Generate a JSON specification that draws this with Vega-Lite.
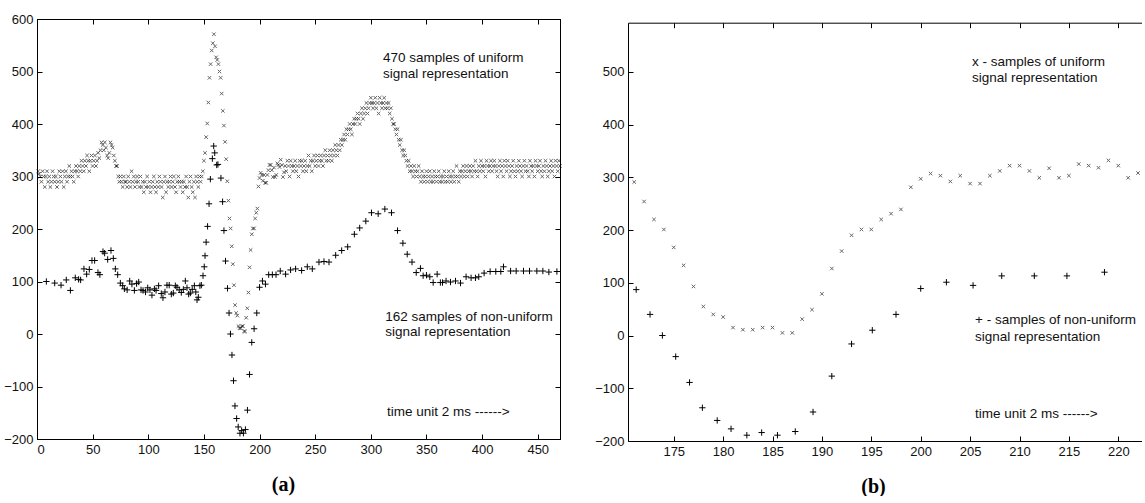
{
 "$schema": "https://vega.github.io/schema/vega-lite/v6.json",
 "padding": {"left": 0, "top": 12, "right": 0, "bottom": 0},
 "background": "white",
 "spacing": 23,
 "config": {
  "view": {"stroke": "black", "strokeWidth": 1},
  "axis": {"grid": false, "domain": true, "ticks": true, "domainColor": "black", "tickColor": "black", "labelColor": "#111", "labelFont": "Liberation Sans", "labelFontSize": 13, "tickSize": -5, "domainWidth": 1, "tickWidth": 1},
  "text": {"font": "Liberation Sans", "fontSize": 13.5, "color": "#111"}
 },
 "datasets": {
  "u": [
{"t":1,"v":310},{"t":2,"v":305},{"t":3,"v":300},{"t":4,"v":290},{"t":5,"v":310},{"t":6,"v":300},{"t":7,"v":280},{"t":8,"v":300},{"t":9,"v":310},{"t":10,"v":290},
{"t":11,"v":300},{"t":12,"v":280},{"t":13,"v":290},{"t":14,"v":310},{"t":15,"v":300},{"t":16,"v":290},{"t":17,"v":300},{"t":18,"v":280},{"t":19,"v":290},{"t":20,"v":310},
{"t":21,"v":300},{"t":22,"v":290},{"t":23,"v":310},{"t":24,"v":280},{"t":25,"v":300},{"t":26,"v":310},{"t":27,"v":290},{"t":28,"v":300},{"t":29,"v":320},{"t":30,"v":300},
{"t":31,"v":310},{"t":32,"v":300},{"t":33,"v":290},{"t":34,"v":310},{"t":35,"v":320},{"t":36,"v":310},{"t":37,"v":300},{"t":38,"v":320},{"t":39,"v":310},{"t":40,"v":330},
{"t":41,"v":320},{"t":42,"v":310},{"t":43,"v":330},{"t":44,"v":320},{"t":45,"v":340},{"t":46,"v":330},{"t":47,"v":310},{"t":48,"v":330},{"t":49,"v":340},{"t":50,"v":320},
{"t":51,"v":330},{"t":52,"v":340},{"t":53,"v":320},{"t":54,"v":330},{"t":55,"v":345},{"t":56,"v":335},{"t":57,"v":350},{"t":58,"v":365},{"t":59,"v":360},{"t":60,"v":350},
{"t":61,"v":365},{"t":62,"v":355},{"t":63,"v":340},{"t":64,"v":335},{"t":65,"v":345},{"t":66,"v":365},{"t":67,"v":360},{"t":68,"v":355},{"t":69,"v":340},{"t":70,"v":330},
{"t":71,"v":320},{"t":72,"v":320},{"t":73,"v":300},{"t":74,"v":290},{"t":75,"v":300},{"t":76,"v":290},{"t":77,"v":280},{"t":78,"v":300},{"t":79,"v":290},{"t":80,"v":290},
{"t":81,"v":280},{"t":82,"v":300},{"t":83,"v":290},{"t":84,"v":280},{"t":85,"v":310},{"t":86,"v":290},{"t":87,"v":300},{"t":88,"v":280},{"t":89,"v":290},{"t":90,"v":300},
{"t":91,"v":290},{"t":92,"v":280},{"t":93,"v":300},{"t":94,"v":280},{"t":95,"v":290},{"t":96,"v":270},{"t":97,"v":290},{"t":98,"v":280},{"t":99,"v":300},{"t":100,"v":280},
{"t":101,"v":290},{"t":102,"v":270},{"t":103,"v":280},{"t":104,"v":290},{"t":105,"v":300},{"t":106,"v":280},{"t":107,"v":270},{"t":108,"v":290},{"t":109,"v":280},{"t":110,"v":300},
{"t":111,"v":290},{"t":112,"v":280},{"t":113,"v":260},{"t":114,"v":290},{"t":115,"v":300},{"t":116,"v":270},{"t":117,"v":290},{"t":118,"v":280},{"t":119,"v":290},{"t":120,"v":300},
{"t":121,"v":280},{"t":122,"v":290},{"t":123,"v":300},{"t":124,"v":280},{"t":125,"v":270},{"t":126,"v":290},{"t":127,"v":300},{"t":128,"v":290},{"t":129,"v":280},{"t":130,"v":290},
{"t":131,"v":270},{"t":132,"v":290},{"t":133,"v":280},{"t":134,"v":300},{"t":135,"v":280},{"t":136,"v":260},{"t":137,"v":290},{"t":138,"v":300},{"t":139,"v":280},{"t":140,"v":270},
{"t":141,"v":290},{"t":142,"v":260},{"t":143,"v":300},{"t":144,"v":290},{"t":145,"v":280},{"t":146,"v":300},{"t":147,"v":290},{"t":148,"v":300},{"t":149,"v":310},{"t":150,"v":330},
{"t":151,"v":345},{"t":152,"v":375},{"t":153,"v":401},{"t":154,"v":441},{"t":155,"v":488},{"t":156,"v":514},{"t":157,"v":540},{"t":158,"v":554},{"t":159,"v":571},{"t":160,"v":548},
{"t":161,"v":527},{"t":162,"v":522},{"t":163,"v":514},{"t":164,"v":500},{"t":165,"v":488},{"t":166,"v":458},{"t":167,"v":425},{"t":168,"v":397},{"t":169,"v":366},{"t":170,"v":333},
{"t":171,"v":291},{"t":172,"v":254},{"t":173,"v":220},{"t":174,"v":201},{"t":175,"v":167},{"t":176,"v":133},{"t":177,"v":93},{"t":178,"v":55},{"t":179,"v":40},{"t":180,"v":35},
{"t":181,"v":15},{"t":182,"v":11},{"t":183,"v":11},{"t":184,"v":15},{"t":185,"v":15},{"t":186,"v":5},{"t":187,"v":5},{"t":188,"v":31},{"t":189,"v":49},{"t":190,"v":79},
{"t":191,"v":127},{"t":192,"v":160},{"t":193,"v":190},{"t":194,"v":201},{"t":195,"v":201},{"t":196,"v":220},{"t":197,"v":231},{"t":198,"v":239},{"t":199,"v":281},{"t":200,"v":297},
{"t":201,"v":307},{"t":202,"v":303},{"t":203,"v":292},{"t":204,"v":303},{"t":205,"v":288},{"t":206,"v":288},{"t":207,"v":303},{"t":208,"v":312},{"t":209,"v":322},{"t":210,"v":322},
{"t":211,"v":312},{"t":212,"v":299},{"t":213,"v":317},{"t":214,"v":299},{"t":215,"v":303},{"t":216,"v":325},{"t":217,"v":322},{"t":218,"v":318},{"t":219,"v":332},{"t":220,"v":322},
{"t":221,"v":299},{"t":222,"v":308},{"t":223,"v":320},{"t":224,"v":310},{"t":225,"v":330},{"t":226,"v":320},{"t":227,"v":300},{"t":228,"v":330},{"t":229,"v":320},{"t":230,"v":310},
{"t":231,"v":320},{"t":232,"v":330},{"t":233,"v":310},{"t":234,"v":320},{"t":235,"v":300},{"t":236,"v":330},{"t":237,"v":320},{"t":238,"v":330},{"t":239,"v":310},{"t":240,"v":320},
{"t":241,"v":330},{"t":242,"v":310},{"t":243,"v":320},{"t":244,"v":340},{"t":245,"v":320},{"t":246,"v":330},{"t":247,"v":310},{"t":248,"v":330},{"t":249,"v":340},{"t":250,"v":320},
{"t":251,"v":330},{"t":252,"v":340},{"t":253,"v":320},{"t":254,"v":330},{"t":255,"v":340},{"t":256,"v":330},{"t":257,"v":320},{"t":258,"v":340},{"t":259,"v":350},{"t":260,"v":330},
{"t":261,"v":340},{"t":262,"v":330},{"t":263,"v":350},{"t":264,"v":340},{"t":265,"v":330},{"t":266,"v":350},{"t":267,"v":340},{"t":268,"v":360},{"t":269,"v":350},{"t":270,"v":340},
{"t":271,"v":360},{"t":272,"v":350},{"t":273,"v":370},{"t":274,"v":360},{"t":275,"v":370},{"t":276,"v":380},{"t":277,"v":370},{"t":278,"v":390},{"t":279,"v":380},{"t":280,"v":390},
{"t":281,"v":400},{"t":282,"v":390},{"t":283,"v":380},{"t":284,"v":400},{"t":285,"v":410},{"t":286,"v":400},{"t":287,"v":410},{"t":288,"v":420},{"t":289,"v":410},{"t":290,"v":400},
{"t":291,"v":420},{"t":292,"v":430},{"t":293,"v":410},{"t":294,"v":420},{"t":295,"v":430},{"t":296,"v":440},{"t":297,"v":420},{"t":298,"v":430},{"t":299,"v":440},{"t":300,"v":450},
{"t":301,"v":440},{"t":302,"v":430},{"t":303,"v":440},{"t":304,"v":450},{"t":305,"v":430},{"t":306,"v":440},{"t":307,"v":420},{"t":308,"v":450},{"t":309,"v":440},{"t":310,"v":430},
{"t":311,"v":440},{"t":312,"v":450},{"t":313,"v":430},{"t":314,"v":440},{"t":315,"v":430},{"t":316,"v":440},{"t":317,"v":420},{"t":318,"v":430},{"t":319,"v":410},{"t":320,"v":400},
{"t":321,"v":400},{"t":322,"v":390},{"t":323,"v":380},{"t":324,"v":390},{"t":325,"v":370},{"t":326,"v":360},{"t":327,"v":370},{"t":328,"v":350},{"t":329,"v":340},{"t":330,"v":350},
{"t":331,"v":340},{"t":332,"v":330},{"t":333,"v":320},{"t":334,"v":330},{"t":335,"v":310},{"t":336,"v":320},{"t":337,"v":310},{"t":338,"v":300},{"t":339,"v":320},{"t":340,"v":310},
{"t":341,"v":300},{"t":342,"v":310},{"t":343,"v":320},{"t":344,"v":300},{"t":345,"v":290},{"t":346,"v":310},{"t":347,"v":300},{"t":348,"v":290},{"t":349,"v":300},{"t":350,"v":310},
{"t":351,"v":290},{"t":352,"v":300},{"t":353,"v":310},{"t":354,"v":290},{"t":355,"v":300},{"t":356,"v":290},{"t":357,"v":310},{"t":358,"v":300},{"t":359,"v":290},{"t":360,"v":300},
{"t":361,"v":310},{"t":362,"v":290},{"t":363,"v":300},{"t":364,"v":290},{"t":365,"v":300},{"t":366,"v":310},{"t":367,"v":290},{"t":368,"v":300},{"t":369,"v":290},{"t":370,"v":310},
{"t":371,"v":300},{"t":372,"v":290},{"t":373,"v":300},{"t":374,"v":310},{"t":375,"v":290},{"t":376,"v":300},{"t":377,"v":320},{"t":378,"v":300},{"t":379,"v":290},{"t":380,"v":310},
{"t":381,"v":300},{"t":382,"v":310},{"t":383,"v":320},{"t":384,"v":300},{"t":385,"v":310},{"t":386,"v":320},{"t":387,"v":300},{"t":388,"v":310},{"t":389,"v":320},{"t":390,"v":310},
{"t":391,"v":300},{"t":392,"v":320},{"t":393,"v":310},{"t":394,"v":330},{"t":395,"v":310},{"t":396,"v":300},{"t":397,"v":320},{"t":398,"v":310},{"t":399,"v":330},{"t":400,"v":320},
{"t":401,"v":310},{"t":402,"v":320},{"t":403,"v":300},{"t":404,"v":330},{"t":405,"v":320},{"t":406,"v":310},{"t":407,"v":320},{"t":408,"v":330},{"t":409,"v":310},{"t":410,"v":320},
{"t":411,"v":330},{"t":412,"v":320},{"t":413,"v":310},{"t":414,"v":300},{"t":415,"v":320},{"t":416,"v":330},{"t":417,"v":310},{"t":418,"v":320},{"t":419,"v":300},{"t":420,"v":330},
{"t":421,"v":320},{"t":422,"v":310},{"t":423,"v":330},{"t":424,"v":320},{"t":425,"v":300},{"t":426,"v":310},{"t":427,"v":320},{"t":428,"v":330},{"t":429,"v":310},{"t":430,"v":300},
{"t":431,"v":320},{"t":432,"v":310},{"t":433,"v":330},{"t":434,"v":320},{"t":435,"v":310},{"t":436,"v":300},{"t":437,"v":320},{"t":438,"v":330},{"t":439,"v":310},{"t":440,"v":320},
{"t":441,"v":310},{"t":442,"v":300},{"t":443,"v":330},{"t":444,"v":320},{"t":445,"v":310},{"t":446,"v":320},{"t":447,"v":300},{"t":448,"v":330},{"t":449,"v":320},{"t":450,"v":310},
{"t":451,"v":320},{"t":452,"v":330},{"t":453,"v":310},{"t":454,"v":300},{"t":455,"v":320},{"t":456,"v":310},{"t":457,"v":330},{"t":458,"v":320},{"t":459,"v":300},{"t":460,"v":310},
{"t":461,"v":320},{"t":462,"v":330},{"t":463,"v":310},{"t":464,"v":320},{"t":465,"v":300},{"t":466,"v":330},{"t":467,"v":320},{"t":468,"v":310},{"t":469,"v":330},{"t":470,"v":320}
  ],
  "n": [
{"t":8.4,"lo":100},{"t":15.9,"lo":97},{"t":21.6,"lo":93},{"t":26.3,"lo":103},{"t":30,"lo":83},{"t":34.4,"lo":107},{"t":37.4,"lo":104},{"t":39.2,"lo":103},
{"t":42.2,"lo":124},{"t":44.6,"lo":114},{"t":47,"lo":123},{"t":49.4,"lo":140},{"t":51.8,"lo":140},{"t":54.8,"lo":117},{"t":56.5,"lo":113},{"t":59.3,"lo":157},
{"t":60.8,"lo":154},{"t":63.5,"lo":142},{"t":66.5,"lo":159},{"t":68.6,"lo":144},{"t":70.4,"lo":124},{"t":72.5,"lo":113},{"t":74.9,"lo":97},{"t":77,"lo":92},
{"t":78.5,"lo":86},{"t":81,"lo":84},{"t":83.3,"lo":101},{"t":85.3,"lo":95},{"t":87.5,"lo":83},{"t":89.5,"lo":96},{"t":91.4,"lo":99},{"t":93.5,"lo":84},
{"t":95.3,"lo":83},{"t":97.5,"lo":80},{"t":99.5,"lo":88},{"t":101.5,"lo":84},{"t":103.3,"lo":74},{"t":105.5,"lo":86},{"t":107,"lo":83},{"t":109.3,"lo":92},
{"t":111.7,"lo":77},{"t":113.2,"lo":69},{"t":115,"lo":80},{"t":116.8,"lo":93},{"t":118.8,"lo":93},{"t":120.7,"lo":76},{"t":122.5,"lo":78},{"t":124.3,"lo":92},
{"t":125.8,"lo":89},{"t":127.8,"lo":84},{"t":129.7,"lo":79},{"t":131.5,"lo":85},{"t":133.3,"lo":101},{"t":134.8,"lo":88},{"t":136.3,"lo":76},{"t":137.8,"lo":78},
{"t":139.5,"lo":85},{"t":141.4,"lo":92},{"t":142.7,"lo":80},{"t":143.8,"lo":65},{"t":145,"lo":70},{"t":146.4,"lo":92},{"t":147.7,"lo":93},{"t":149.2,"lo":111},
{"t":150.3,"lo":128},{"t":151,"lo":149},{"t":152,"lo":175},{"t":153.3,"lo":205},{"t":154.6,"lo":248},{"t":155.8,"lo":295},{"t":157.6,"lo":334},{"t":158.8,"lo":358},
{"t":159.7,"lo":345},{"t":161.5,"lo":322},{"t":162.6,"lo":323},{"t":165.3,"lo":297},{"t":166.8,"lo":252},{"t":168,"lo":197},{"t":169.4,"lo":139},{"t":171.2,"lo":87},
{"t":172.6,"lo":40},{"t":173.85,"lo":0},{"t":175.2,"lo":-40},{"t":176.6,"lo":-89},{"t":177.9,"lo":-137},{"t":179.4,"lo":-161},{"t":180.8,"lo":-177},{"t":182.4,"lo":-189},
{"t":183.9,"lo":-184},{"t":185.5,"lo":-189},{"t":187.3,"lo":-182},{"t":189.1,"lo":-145},{"t":191,"lo":-77},{"t":193,"lo":-16},{"t":195.1,"lo":10},{"t":197.5,"lo":40},
{"t":200,"lo":89},{"t":202.6,"lo":101},{"t":205.3,"lo":95},{"t":208.2,"lo":113},{"t":211.5,"lo":113},{"t":214.8,"lo":113},{"t":218.6,"lo":120},{"t":223.4,"lo":114},
{"t":227.9,"lo":122},{"t":232.4,"lo":124},{"t":237.8,"lo":121},{"t":242.9,"lo":128},{"t":247.4,"lo":124},{"t":253.4,"lo":137},{"t":257.9,"lo":138},{"t":262.4,"lo":137},
{"t":268.4,"lo":150},{"t":273.8,"lo":159},{"t":279.2,"lo":166},{"t":285.2,"lo":190},{"t":290,"lo":202},{"t":295.5,"lo":215},{"t":300.6,"lo":231},{"t":306.6,"lo":229},
{"t":312.6,"lo":238},{"t":318.6,"lo":231},{"t":324,"lo":197},{"t":328.8,"lo":173},{"t":332.7,"lo":152},{"t":337,"lo":137},{"t":340.8,"lo":117},{"t":344.6,"lo":125},
{"t":347,"lo":111},{"t":350,"lo":112},{"t":353,"lo":109},{"t":356,"lo":98},{"t":359.6,"lo":114},{"t":362.5,"lo":98},{"t":364.4,"lo":98},{"t":367.6,"lo":101},
{"t":371.6,"lo":99},{"t":376.1,"lo":101},{"t":380.6,"lo":97},{"t":385.6,"lo":109},{"t":390.1,"lo":107},{"t":394,"lo":107},{"t":397,"lo":109},{"t":401.8,"lo":116},
{"t":407.2,"lo":119},{"t":412.3,"lo":119},{"t":416.8,"lo":119},{"t":419.2,"lo":128},{"t":425.6,"lo":120},{"t":430.6,"lo":120},{"t":437.2,"lo":120},{"t":442.6,"lo":120},
{"t":449.2,"lo":120},{"t":454.6,"lo":120},{"t":460,"lo":118},{"t":467.2,"lo":119}
  ],
  "notesA": [
   {"t": 311, "v": 526, "s": "470 samples of uniform"},
   {"t": 311, "v": 495, "s": "signal representation"},
   {"t": 313, "v": 32, "s": "162 samples of non-uniform"},
   {"t": 313, "v": 4, "s": "signal representation"},
   {"t": 314.5, "v": -149, "s": "time unit 2 ms ------>"}
  ],
  "notesB": [
   {"t": 205.2, "v": 518, "s": "x - samples of uniform"},
   {"t": 205.2, "v": 488, "s": "signal representation"},
   {"t": 205.5, "v": 29, "s": "+ - samples of non-uniform"},
   {"t": 205.5, "v": -2, "s": "signal representation"},
   {"t": 205.5, "v": -148, "s": "time unit 2 ms ------>"}
  ]
 },
 "hconcat": [
  {
   "width": 523,
   "height": 420,
   "resolve": {"axis": {"x": "independent", "y": "independent"}},
   "layer": [
    {
     "data": {"name": "u"},
     "mark": {"type": "point", "shape": "M-1,-1L1,1M-1,1L1,-1", "filled": false, "color": "black", "strokeWidth": 1, "size": 12, "opacity": 0.6},
     "encoding": {
      "x": {"field": "t", "type": "quantitative", "scale": {"domain": [0, 470], "nice": false, "zero": false},
            "axis": {"orient": "bottom", "values": [0, 50, 100, 150, 200, 250, 300, 350, 400, 450], "labelPadding": 9, "title": "(a)", "titleFont": "Liberation Serif", "titleFontWeight": "bold", "titleFontSize": 20, "titleColor": "black", "titlePadding": 18, "titleX": 246}},
      "y": {"field": "v", "type": "quantitative", "scale": {"domain": [-200, 600], "nice": false, "zero": false},
            "axis": {"orient": "left", "values": [-200, -100, 0, 100, 200, 300, 400, 500, 600], "labelPadding": 9, "minExtent": 36, "maxExtent": 36, "title": null}}
     }
    },
    {
     "data": {"name": "n"},
     "mark": {"type": "point", "shape": "M-1,0L1,0M0,-1L0,1", "filled": false, "color": "black", "strokeWidth": 1, "size": 40, "opacity": 1},
     "encoding": {
      "x": {"field": "t", "type": "quantitative", "axis": {"orient": "top", "labels": false, "values": [0, 50, 100, 150, 200, 250, 300, 350, 400, 450], "minExtent": 0, "maxExtent": 0, "title": null}},
      "y": {"field": "lo", "type": "quantitative", "axis": {"orient": "right", "labels": false, "values": [-200, -100, 0, 100, 200, 300, 400, 500, 600], "minExtent": 0, "maxExtent": 0, "title": null}}
     }
    },
    {
     "data": {"name": "notesA"},
     "mark": {"type": "text", "align": "left", "baseline": "middle"},
     "encoding": {
      "x": {"field": "t", "type": "quantitative", "axis": null},
      "y": {"field": "v", "type": "quantitative", "axis": null},
      "text": {"field": "s"}
     }
    }
   ]
  },
  {
   "width": 514,
   "height": 422,
   "view": {"stroke": null},
   "resolve": {"axis": {"x": "independent", "y": "independent"}},
   "layer": [
    {
     "data": {"name": "u"},
     "transform": [{"filter": {"field": "t", "range": [170.37, 222.4]}}],
     "mark": {"type": "point", "shape": "M-1,-1L1,1M-1,1L1,-1", "filled": false, "color": "black", "strokeWidth": 1, "size": 12, "opacity": 0.6},
     "encoding": {
      "x": {"field": "t", "type": "quantitative", "scale": {"domain": [170.37, 222.4], "nice": false, "zero": false},
            "axis": {"orient": "bottom", "values": [175, 180, 185, 190, 195, 200, 205, 210, 215, 220], "labelPadding": 9, "title": "(b)", "titleFont": "Liberation Serif", "titleFontWeight": "bold", "titleFontSize": 20, "titleColor": "black", "titlePadding": 18, "titleX": 245}},
      "y": {"field": "v", "type": "quantitative", "scale": {"domain": [-200, 593], "range": [422, 3.7], "nice": false, "zero": false},
            "axis": {"orient": "left", "values": [-200, -100, 0, 100, 200, 300, 400, 500], "labelPadding": 9, "minExtent": 40, "maxExtent": 40, "title": null}}
     }
    },
    {
     "data": {"name": "n"},
     "transform": [{"filter": {"field": "t", "range": [170.37, 222.4]}}],
     "mark": {"type": "point", "shape": "M-1,0L1,0M0,-1L0,1", "filled": false, "color": "black", "strokeWidth": 1, "size": 40, "opacity": 1},
     "encoding": {
      "x": {"field": "t", "type": "quantitative", "axis": {"orient": "top", "offset": -3.7, "labels": false, "values": [175, 180, 185, 190, 195, 200, 205, 210, 215, 220], "minExtent": 0, "maxExtent": 0, "title": null}},
      "y": {"field": "lo", "type": "quantitative", "axis": null}
     }
    },
    {
     "data": {"name": "notesB"},
     "mark": {"type": "text", "align": "left", "baseline": "middle"},
     "encoding": {
      "x": {"field": "t", "type": "quantitative", "axis": null},
      "y": {"field": "v", "type": "quantitative", "axis": null},
      "text": {"field": "s"}
     }
    }
   ]
  }
 ]
}
